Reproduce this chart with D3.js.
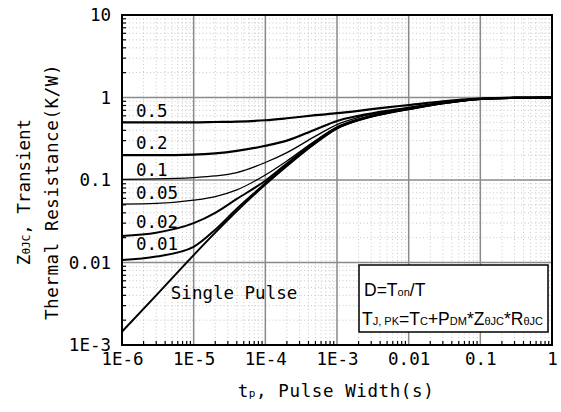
<!DOCTYPE html>
<html lang="en">
<head>
<meta charset="UTF-8">
<title>Transient Thermal Resistance</title>
<style>
    body { margin: 0; background: #fff; }
    svg { display: block; }
    .mono { font-family: "DejaVu Sans Mono", monospace; font-size: 17.5px; fill: #000; }
    .grid-major line { stroke: #8a8a8a; stroke-width: 1.5; }
    .grid-minor line { stroke: #c8c8c8; stroke-width: 1; stroke-dasharray: 1,2.5; }
    .axis path, .axis line { stroke: #000; }
    .axis text { font-family: "DejaVu Sans Mono", monospace; font-size: 17.5px; fill: #000; }
</style>
</head>
<body>
<svg id="chart"></svg>
<script src="https://d3js.org/d3.v7.min.js"></script>
<script>
    // pulse width samples (s)
    var tp = [1e-6, 3e-6, 1e-5, 2e-5, 4e-5, 1e-4, 2e-4, 5e-4, 1e-3, 2e-3, 5e-3, 1e-2, 3e-2, 1e-1, 3e-1, 1];

    // Z(thetaJC), one array per duty cycle
    var d05 = [0.50, 0.50, 0.50, 0.505, 0.51, 0.53, 0.56, 0.61, 0.645, 0.69, 0.76, 0.81, 0.90, 0.97, 0.995, 1.0];
    var d02 = [0.20, 0.20, 0.203, 0.21, 0.225, 0.26, 0.30, 0.41, 0.52, 0.60, 0.69, 0.75, 0.865, 0.96, 0.99, 1.0];
    var d01 = [0.102, 0.103, 0.107, 0.112, 0.123, 0.163, 0.215, 0.34, 0.47, 0.575, 0.68, 0.745, 0.86, 0.96, 0.99, 1.0];
    var d005 = [0.051, 0.052, 0.057, 0.063, 0.076, 0.115, 0.17, 0.30, 0.44, 0.55, 0.665, 0.735, 0.855, 0.96, 0.99, 1.0];
    var d002 = [0.021, 0.023, 0.030, 0.040, 0.059, 0.098, 0.158, 0.29, 0.43, 0.54, 0.655, 0.73, 0.85, 0.96, 0.99, 1.0];
    var d001 = [0.0107, 0.0118, 0.0155, 0.025, 0.045, 0.091, 0.152, 0.285, 0.425, 0.535, 0.65, 0.725, 0.85, 0.96, 0.99, 1.0];
    var single = [0.00145, 0.0040, 0.0123, 0.023, 0.042, 0.088, 0.148, 0.28, 0.42, 0.53, 0.645, 0.72, 0.85, 0.96, 0.99, 1.0];

    var seriesNames = ["0.5", "0.2", "0.1", "0.05", "0.02", "0.01", "Single Pulse"];
    var seriesValues = [d05, d02, d01, d005, d002, d001, single];
    var seriesWidth = [2.2, 2.2, 1.3, 1.3, 2, 2, 2];
    // where each label sits (value on y axis)
    var labelAt = [0.58, 0.238, 0.112, 0.059, 0.026, 0.0141, 0.0036];

    var xTicks = [1e-6, 1e-5, 1e-4, 1e-3, 1e-2, 1e-1, 1];
    var xTickLabels = ["1E-6", "1E-5", "1E-4", "1E-3", "0.01", "0.1", "1"];
    var yTicks = [1e-3, 1e-2, 1e-1, 1, 10];
    var yTickLabels = ["1E-3", "0.01", "0.1", "1", "10"];

    var width = 561, height = 412;
    var plotL = 122, plotR = 552, plotT = 15, plotB = 345;

    var x = d3.scaleLog().domain([1e-6, 1]).range([plotL, plotR]);
    var y = d3.scaleLog().domain([1e-3, 10]).range([plotB, plotT]);

    var svg = d3.select("#chart").attr("width", width).attr("height", height);

    // minor ticks 2..9 per decade
    function minors(lo, hi) {
        var out = [];
        for (var e = lo; e < hi; e++) {
            for (var k = 2; k <= 9; k++) out.push(k * Math.pow(10, e));
        }
        return out;
    }
    var xMinor = minors(-6, 0);
    var yMinor = minors(-3, 1);

    var gMinor = svg.append("g").attr("class", "grid-minor");
    gMinor.selectAll(".vx").data(xMinor).enter().append("line")
        .attr("x1", function (d) { return x(d); }).attr("x2", function (d) { return x(d); })
        .attr("y1", plotT).attr("y2", plotB);
    gMinor.selectAll(".hy").data(yMinor).enter().append("line")
        .attr("y1", function (d) { return y(d); }).attr("y2", function (d) { return y(d); })
        .attr("x1", plotL).attr("x2", plotR);

    var gMajor = svg.append("g").attr("class", "grid-major");
    gMajor.selectAll(".vx").data(xTicks.slice(1, -1)).enter().append("line")
        .attr("x1", function (d) { return x(d); }).attr("x2", function (d) { return x(d); })
        .attr("y1", plotT).attr("y2", plotB);
    gMajor.selectAll(".hy").data(yTicks.slice(1, -1)).enter().append("line")
        .attr("y1", function (d) { return y(d); }).attr("y2", function (d) { return y(d); })
        .attr("x1", plotL).attr("x2", plotR);

    // curves
    var line = d3.line()
        .x(function (d) { return x(d[0]); })
        .y(function (d) { return y(d[1]); })
        .curve(d3.curveMonotoneX);

    svg.append("g").selectAll("path").data(seriesValues).enter().append("path")
        .attr("d", function (vals) { return line(tp.map(function (t, i) { return [t, vals[i]]; })); })
        .attr("fill", "none")
        .attr("stroke", "#000")
        .attr("stroke-width", function (d, i) { return seriesWidth[i]; });

    svg.append("g").selectAll("text").data(seriesNames).enter().append("text")
        .attr("class", "mono")
        .attr("x", function (d, i) { return i < 6 ? x(1e-6) + 14 : x(4.8e-6); })
        .attr("y", function (d, i) { return y(labelAt[i]); })
        .text(function (d) { return d; });

    // axes
    var xAxis = d3.axisBottom(x).tickValues(xTicks)
        .tickFormat(function (d, i) { return xTickLabels[i]; })
        .tickSize(0).tickPadding(8);
    svg.append("g").attr("class", "axis").attr("transform", "translate(0," + plotB + ")")
        .call(xAxis).call(function (g) { g.select(".domain").remove(); });

    var yAxis = d3.axisLeft(y).tickValues(yTicks)
        .tickFormat(function (d, i) { return yTickLabels[i]; })
        .tickSize(0).tickPadding(11);
    svg.append("g").attr("class", "axis").attr("transform", "translate(" + plotL + ",0)")
        .call(yAxis).call(function (g) { g.select(".domain").remove(); });

    // inner minor tick marks
    svg.append("g").selectAll("line").data(xMinor).enter().append("line")
        .attr("x1", function (d) { return x(d); }).attr("x2", function (d) { return x(d); })
        .attr("y1", plotB).attr("y2", plotB - 4)
        .attr("stroke", "#000").attr("stroke-width", 1.2);
    svg.append("g").selectAll("line").data(yMinor).enter().append("line")
        .attr("y1", function (d) { return y(d); }).attr("y2", function (d) { return y(d); })
        .attr("x1", plotL).attr("x2", plotL + 4)
        .attr("stroke", "#000").attr("stroke-width", 1.2);

    // frame
    svg.append("rect").attr("x", plotL).attr("y", plotT)
        .attr("width", plotR - plotL).attr("height", plotB - plotT)
        .attr("fill", "none").attr("stroke", "#000").attr("stroke-width", 2);

    // legend box
    var box = svg.append("g").attr("transform", "translate(359,265)");
    box.append("rect").attr("width", 189).attr("height", 67)
        .attr("fill", "#fff").attr("stroke", "#000").attr("stroke-width", 1.5);
    var t1 = box.append("text").attr("x", 5).attr("y", 31)
        .style("font-family", "Liberation Sans, sans-serif").style("font-size", "17.5px");
    t1.append("tspan").text("D=T");
    t1.append("tspan").style("font-size", "11px").text("on");
    t1.append("tspan").text("/T");
    var t2 = box.append("text").attr("x", 3).attr("y", 60)
        .style("font-family", "Liberation Sans, sans-serif").style("font-size", "17.5px");
    t2.append("tspan").text("T");
    t2.append("tspan").style("font-size", "11px").text("J, PK");
    t2.append("tspan").text("=T");
    t2.append("tspan").style("font-size", "11px").text("C");
    t2.append("tspan").text("+P");
    t2.append("tspan").style("font-size", "11px").text("DM");
    t2.append("tspan").text("*Z");
    t2.append("tspan").style("font-size", "11px").text("θJC");
    t2.append("tspan").text("*R");
    t2.append("tspan").style("font-size", "11px").text("θJC");

    // axis titles
    var xt = svg.append("text").attr("class", "mono").style("letter-spacing", "0.6px")
        .attr("x", 336).attr("y", 397).attr("text-anchor", "middle");
    xt.append("tspan").text("t");
    xt.append("tspan").style("font-size", "11px").text("p");
    xt.append("tspan").text(", Pulse Width(s)");

    var yt = svg.append("g").attr("transform", "translate(0,192) rotate(-90)");
    var y1 = yt.append("text").attr("class", "mono").attr("x", 0).attr("y", 30).attr("text-anchor", "middle");
    y1.append("tspan").text("Z");
    y1.append("tspan").style("font-size", "11px").text("θJC");
    y1.append("tspan").text(", Transient");
    yt.append("text").attr("class", "mono").style("letter-spacing", "0.6px")
        .attr("x", 0).attr("y", 58).attr("text-anchor", "middle")
        .text("Thermal Resistance(K/W)");
</script>
</body>
</html>
